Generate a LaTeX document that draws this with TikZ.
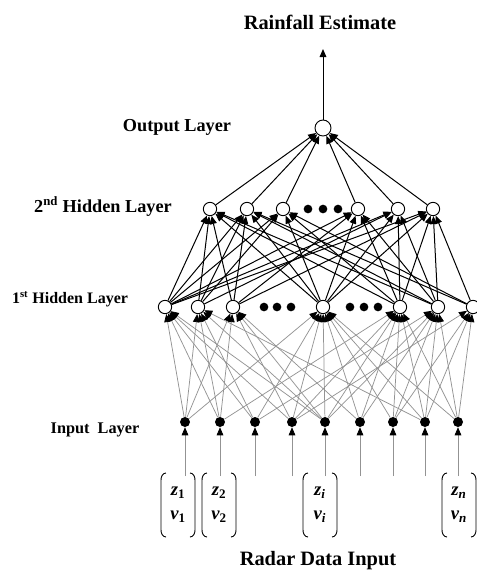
\documentclass[tikz,border=0pt]{standalone}
\usepackage{fontspec}
\setmainfont{Liberation Serif}
\usetikzlibrary{arrows.meta}

\tikzset{
  unit/.style={circle,draw,fill=white,line width=0.7pt,inner sep=0pt,minimum size=10pt},
  inunit/.style={circle,fill=black,inner sep=0pt,minimum size=7.5pt},
  dot/.style={circle,fill=black,inner sep=0pt,minimum size=6.5pt},
  link/.style={line width=0.75pt,-{Triangle[length=6pt,width=5pt]}},
  feed/.style={gray!85,line width=0.55pt,-{Triangle[length=6pt,width=5pt,black]}},
  layertext/.style={font=\bfseries\fontsize{13.7}{15}\selectfont},
  bigtext/.style={font=\bfseries\fontsize{15.3}{17}\selectfont},
  vec/.style={font=\bfseries\itshape\fontsize{14}{16}\selectfont,inner sep=0pt}
}

\begin{document}
\begin{tikzpicture}[x=0.75pt,y=-0.75pt]
  \useasboundingbox (0,0) rectangle (477,572);

  % layer names
  \node[bigtext] (est) at (320,22) {Rainfall Estimate};
  \node[layertext] (lout) at (177,127) {Output Layer};
  \node[layertext] (lhid2) at (103,207) {2\textsuperscript{nd} Hidden Layer};
  \node[layertext,font=\bfseries\fontsize{12}{14}\selectfont] (lhid1) at (70,299) {1\textsuperscript{st} Hidden Layer};
  \node[layertext,font=\bfseries\fontsize{12.2}{14}\selectfont] (lin) at (95,430) {Input\ \ Layer};
  \node[bigtext] (lradar) at (318,561) {Radar Data Input};

  % units of the net
  \node[unit,minimum size=12pt] (out) at (323,128) {};
  \foreach \x [count=\k] in {210,247,283,358,398,433}
    \node[unit] (b\k) at (\x,209) {};
  \foreach \x [count=\k] in {165,198,233,323,400,438,473}
    \node[unit] (a\k) at (\x,307) {};
  \foreach \x [count=\k] in {185,220,255,292,325,360,393,425,458}
    \node[inunit] (i\k) at (\x,422) {};

  % dots for the skipped units
  \foreach \x in {308,323,338} \node[dot] at (\x,209) {};
  \foreach \x in {264,277,291,350,364,378} \node[dot] at (\x,307) {};

  % radar data feeding the inputs
  \foreach \x [count=\k] in {185,220,255,292,325,360,393,425,458} {
    \coordinate (f\k) at (\x,476);
    \draw[feed] (f\k) -- (i\k);
  }

  % input -> 1st hidden
  \foreach \s/\tl in {1/{1,2,3,4},2/{1,2,3,5},3/{1,2,4,6},4/{1,3,4,5,7},5/{1,2,3,4,5,6},
                      6/{3,4,5,6},7/{4,5,6,7},8/{2,4,5,6,7},9/{4,5,6,7}}
    \foreach \t in \tl \draw[feed] (i\s) -- (a\t);

  % 1st hidden -> 2nd hidden
  \foreach \s/\tl in {1/{1,2,3,4,5,6},2/{1,2,3,5},3/{1,2,4,6},4/{1,2,3,4,5,6},
                      5/{1,3,4,5,6},6/{1,2,4,5,6},7/{2,3,6}}
    \foreach \t in \tl \draw[link] (a\s) -- (b\t);

  % 2nd hidden -> output
  \foreach \k in {1,...,6} \draw[link] (b\k) -- (out);
  \coordinate (top) at (323,49);
  \draw[link] (out) -- (top);

  % input vectors
  \foreach \x/\sub [count=\k] in {178/\upshape 1,219/\upshape 2,320/i,459/n} {
    \draw[line width=0.7pt] (\x-12,473) to[out=180,in=90] (\x-17,480) -- (\x-17,530) to[out=-90,in=180] (\x-12,537);
    \draw[line width=0.7pt] (\x+12,473) to[out=0,in=90] (\x+17,480) -- (\x+17,530) to[out=-90,in=0] (\x+12,537);
    \node[vec] (z\k) at (\x,493) {z\textsubscript{\sub}};
    \node[vec] (v\k) at (\x,517) {v\textsubscript{\sub}};
  }
\end{tikzpicture}
\end{document}
